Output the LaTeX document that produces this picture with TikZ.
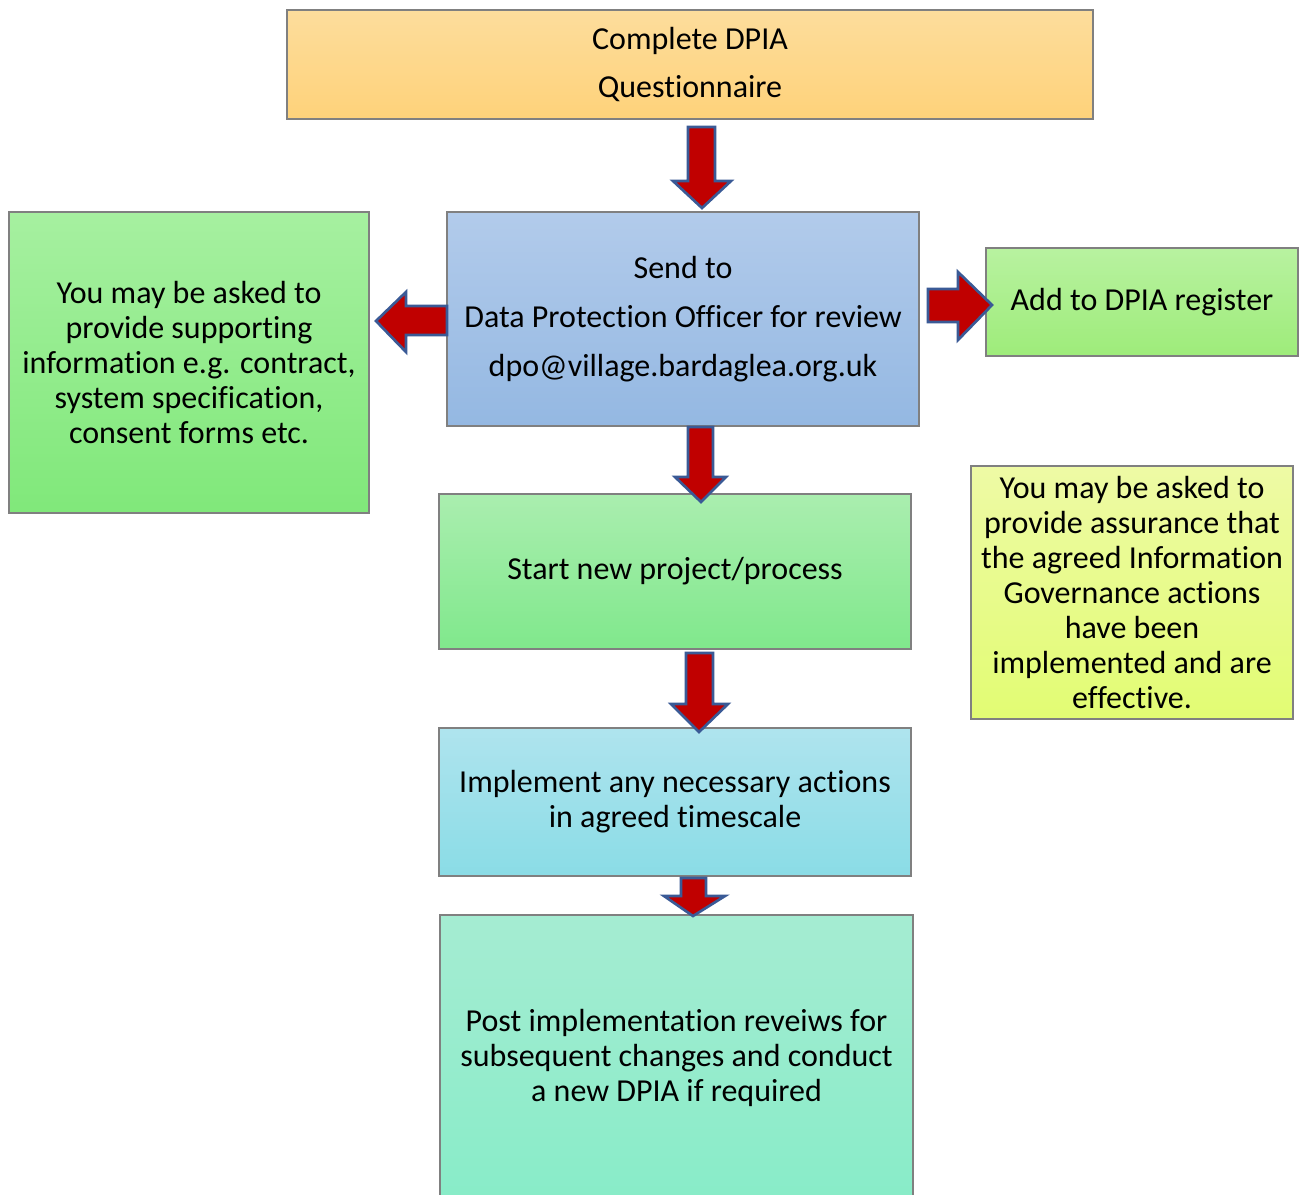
\documentclass[tikz,border=0pt]{standalone}
\usepackage{fontspec}
\setmainfont{Carlito}[Ligatures=NoCommon]
\definecolor{arrred}{RGB}{192,0,0}
\definecolor{arrblue}{RGB}{58,90,150}
\definecolor{boxgray}{RGB}{128,128,128}
\begin{document}
\begin{tikzpicture}[x=0.75pt,y=-0.75pt,
  box/.style={draw=boxgray,line width=1.1pt,inner sep=0pt,align=center,
    font=\fontsize{24}{26.25}\selectfont},
  blockarr/.style={fill=arrred,draw=arrblue,line width=2pt,line join=miter}]
\useasboundingbox (0,0) rectangle (1299,1195);
\fill[white] (0,0) rectangle (1299,1195);

\node[box,minimum width=604.5pt,minimum height=81.75pt,
  top color={rgb,255:red,253;green,221;blue,156},bottom color={rgb,255:red,254;green,210;blue,122},
  font=\fontsize{24}{36}\selectfont] (top) at (690,64.5) {Complete DPIA\\Questionnaire};

\node[box,minimum width=354pt,minimum height=160.5pt,
  top color={rgb,255:red,178;green,203;blue,235},bottom color={rgb,255:red,148;green,184;blue,226},
  font=\fontsize{24}{36.75}\selectfont] (dpo) at (683,319)
  {Send to\\Data Protection Officer for review\\dpo@village.bardaglea.org.uk};

\node[box,minimum width=270pt,minimum height=225.75pt,
  top color={rgb,255:red,166;green,240;blue,160},bottom color={rgb,255:red,128;green,232;blue,122}] (info) at (189,362.5)
  {You may be asked to\\provide supporting\\information e.g. contract,\\system specification,\\consent forms etc.};

\node[box,minimum width=234pt,minimum height=81pt,
  top color={rgb,255:red,184;green,242;blue,160},bottom color={rgb,255:red,158;green,236;blue,122}] (reg) at (1142,302)
  {Add to DPIA register};

\node[box,minimum width=241.5pt,minimum height=189.75pt,
  top color={rgb,255:red,238;green,250;blue,165},bottom color={rgb,255:red,226;green,252;blue,115}] (assure) at (1132,592.5)
  {You may be asked to\\provide assurance that\\the agreed Information\\Governance actions\\have been\\implemented and are\\effective.};

\node[box,minimum width=354pt,minimum height=116.25pt,
  top color={rgb,255:red,170;green,238;blue,175},bottom color={rgb,255:red,128;green,232;blue,140}] (start) at (675,571.5)
  {Start new project/process};

\node[box,minimum width=354pt,minimum height=111pt,
  top color={rgb,255:red,175;green,228;blue,238},bottom color={rgb,255:red,138;green,220;blue,230}] (impl) at (675,802)
  {Implement any necessary actions\\in agreed timescale};

\node[box,minimum width=354.75pt,minimum height=213.75pt,
  top color={rgb,255:red,165;green,236;blue,210},bottom color={rgb,255:red,136;green,236;blue,200}] (post) at (676.5,1057.5)
  {Post implementation reveiws for\\subsequent changes and conduct\\a new DPIA if required};

% block arrows
\draw[blockarr] (688,127) -- (715,127) -- (715,181) -- (731,181) -- (702,208) -- (673,181) -- (688,181) -- cycle;
\draw[blockarr] (688,427) -- (713,427) -- (713,477) -- (726,477) -- (701,502) -- (675,477) -- (688,477) -- cycle;
\draw[blockarr] (686,653) -- (713,653) -- (713,704) -- (728,704) -- (699,732) -- (671,704) -- (686,704) -- cycle;
\draw[blockarr] (681,878) -- (706,878) -- (706,896) -- (725,896) -- (693,916) -- (664,896) -- (681,896) -- cycle;
\draw[blockarr] (447,306) -- (447,335) -- (406,335) -- (406,352) -- (376,321) -- (406,292) -- (406,306) -- cycle;
\draw[blockarr] (928,289) -- (928,322) -- (958,322) -- (958,340) -- (992,305) -- (958,272) -- (958,289) -- cycle;
\end{tikzpicture}
\end{document}
